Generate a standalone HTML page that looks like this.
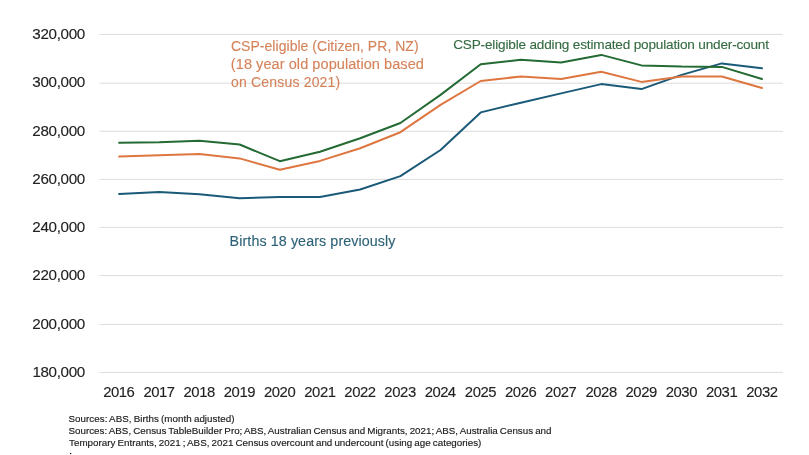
<!DOCTYPE html>
<html><head><meta charset="utf-8"><title>Chart</title>
<style>
html,body{margin:0;padding:0;background:#fff;}
body{width:809px;height:455px;overflow:hidden;}
svg{display:block;will-change:transform;}
text{font-family:"Liberation Sans",sans-serif;}
</style></head><body>
<svg width="809" height="455" viewBox="0 0 809 455">
<rect width="809" height="455" fill="#fff"/>
<line x1="99.5" y1="34.40" x2="783" y2="34.40" stroke="#DCDCDC" stroke-width="1"/>
<line x1="99.5" y1="83.20" x2="783" y2="83.20" stroke="#DCDCDC" stroke-width="1"/>
<line x1="99.5" y1="131.30" x2="783" y2="131.30" stroke="#DCDCDC" stroke-width="1"/>
<line x1="99.5" y1="179.40" x2="783" y2="179.40" stroke="#DCDCDC" stroke-width="1"/>
<line x1="99.5" y1="227.40" x2="783" y2="227.40" stroke="#DCDCDC" stroke-width="1"/>
<line x1="99.5" y1="275.60" x2="783" y2="275.60" stroke="#DCDCDC" stroke-width="1"/>
<line x1="99.5" y1="324.40" x2="783" y2="324.40" stroke="#DCDCDC" stroke-width="1"/>
<line x1="99.5" y1="372.40" x2="783" y2="372.40" stroke="#DCDCDC" stroke-width="1"/>
<polyline points="119.10,193.90 159.28,191.90 199.46,194.30 239.64,198.20 279.82,197.00 320.00,197.00 360.18,189.50 400.36,176.10 440.54,150.00 480.72,112.40 520.90,102.70 561.08,93.40 601.26,84.10 641.44,89.10 681.62,74.90 721.80,63.40 761.98,68.30" fill="none" stroke="#1A5A78" stroke-width="2" stroke-linejoin="round" stroke-linecap="round"/>
<polyline points="119.10,156.50 159.28,155.30 199.46,154.10 239.64,158.40 279.82,169.70 320.00,160.90 360.18,148.20 400.36,132.20 440.54,104.80 480.72,81.00 520.90,76.40 561.08,79.00 601.26,71.80 641.44,81.90 681.62,76.50 721.80,76.50 761.98,88.00" fill="none" stroke="#DE7640" stroke-width="2" stroke-linejoin="round" stroke-linecap="round"/>
<polyline points="119.10,142.70 159.28,142.30 199.46,140.70 239.64,144.50 279.82,161.20 320.00,151.70 360.18,138.20 400.36,123.00 440.54,94.90 480.72,64.30 520.90,59.80 561.08,62.60 601.26,54.90 641.44,65.40 681.62,66.60 721.80,66.90 761.98,79.00" fill="none" stroke="#236A33" stroke-width="2" stroke-linejoin="round" stroke-linecap="round"/>
<text id="yl0" transform="matrix(1.05,0,0,1,32.34,39.00)" font-size="14.5" fill="#222222" stroke="#222222" stroke-width="0.12" textLength="50.35" lengthAdjust="spacing">320,000</text>
<text id="yl1" transform="matrix(1.05,0,0,1,32.34,87.29)" font-size="14.5" fill="#222222" stroke="#222222" stroke-width="0.12" textLength="50.35" lengthAdjust="spacing">300,000</text>
<text id="yl2" transform="matrix(1.05,0,0,1,32.34,135.58)" font-size="14.5" fill="#222222" stroke="#222222" stroke-width="0.12" textLength="50.36" lengthAdjust="spacing">280,000</text>
<text id="yl3" transform="matrix(1.05,0,0,1,32.34,183.87)" font-size="14.5" fill="#222222" stroke="#222222" stroke-width="0.12" textLength="50.36" lengthAdjust="spacing">260,000</text>
<text id="yl4" transform="matrix(1.05,0,0,1,32.34,232.16)" font-size="14.5" fill="#222222" stroke="#222222" stroke-width="0.12" textLength="50.36" lengthAdjust="spacing">240,000</text>
<text id="yl5" transform="matrix(1.05,0,0,1,32.34,280.45)" font-size="14.5" fill="#222222" stroke="#222222" stroke-width="0.12" textLength="50.36" lengthAdjust="spacing">220,000</text>
<text id="yl6" transform="matrix(1.05,0,0,1,32.34,328.74)" font-size="14.5" fill="#222222" stroke="#222222" stroke-width="0.12" textLength="50.36" lengthAdjust="spacing">200,000</text>
<text id="yl7" transform="matrix(1.05,0,0,1,32.43,377.03)" font-size="14.5" fill="#222222" stroke="#222222" stroke-width="0.12" textLength="50.33" lengthAdjust="spacing">180,000</text>
<text id="xl0" transform="matrix(1.04,0,0,1,103.16,396.80)" font-size="14.3" fill="#222222" stroke="#222222" stroke-width="0.12" textLength="30.49" lengthAdjust="spacing">2016</text>
<text id="xl1" transform="matrix(1.04,0,0,1,143.52,396.80)" font-size="14.3" fill="#222222" stroke="#222222" stroke-width="0.12" textLength="30.32" lengthAdjust="spacing">2017</text>
<text id="xl2" transform="matrix(1.04,0,0,1,183.52,396.80)" font-size="14.3" fill="#222222" stroke="#222222" stroke-width="0.12" textLength="30.62" lengthAdjust="spacing">2018</text>
<text id="xl3" transform="matrix(1.04,0,0,1,223.67,396.80)" font-size="14.3" fill="#222222" stroke="#222222" stroke-width="0.12" textLength="30.65" lengthAdjust="spacing">2019</text>
<text id="xl4" transform="matrix(1.04,0,0,1,264.03,396.80)" font-size="14.3" fill="#222222" stroke="#222222" stroke-width="0.12" textLength="30.46" lengthAdjust="spacing">2020</text>
<text id="xl5" transform="matrix(1.04,0,0,1,304.18,396.80)" font-size="14.3" fill="#222222" stroke="#222222" stroke-width="0.12" textLength="30.67" lengthAdjust="spacing">2021</text>
<text id="xl6" transform="matrix(1.04,0,0,1,344.32,396.80)" font-size="14.3" fill="#222222" stroke="#222222" stroke-width="0.12" textLength="30.53" lengthAdjust="spacing">2022</text>
<text id="xl7" transform="matrix(1.04,0,0,1,384.32,396.80)" font-size="14.3" fill="#222222" stroke="#222222" stroke-width="0.12" textLength="30.64" lengthAdjust="spacing">2023</text>
<text id="xl8" transform="matrix(1.04,0,0,1,424.68,396.80)" font-size="14.3" fill="#222222" stroke="#222222" stroke-width="0.12" textLength="30.26" lengthAdjust="spacing">2024</text>
<text id="xl9" transform="matrix(1.04,0,0,1,464.83,396.80)" font-size="14.3" fill="#222222" stroke="#222222" stroke-width="0.12" textLength="30.59" lengthAdjust="spacing">2025</text>
<text id="xl10" transform="matrix(1.04,0,0,1,504.98,396.80)" font-size="14.3" fill="#222222" stroke="#222222" stroke-width="0.12" textLength="30.67" lengthAdjust="spacing">2026</text>
<text id="xl11" transform="matrix(1.04,0,0,1,545.12,396.80)" font-size="14.3" fill="#222222" stroke="#222222" stroke-width="0.12" textLength="30.53" lengthAdjust="spacing">2027</text>
<text id="xl12" transform="matrix(1.04,0,0,1,585.48,396.80)" font-size="14.3" fill="#222222" stroke="#222222" stroke-width="0.12" textLength="30.47" lengthAdjust="spacing">2028</text>
<text id="xl13" transform="matrix(1.04,0,0,1,625.48,396.80)" font-size="14.3" fill="#222222" stroke="#222222" stroke-width="0.12" textLength="30.66" lengthAdjust="spacing">2029</text>
<text id="xl14" transform="matrix(1.04,0,0,1,665.63,396.80)" font-size="14.3" fill="#222222" stroke="#222222" stroke-width="0.12" textLength="30.56" lengthAdjust="spacing">2030</text>
<text id="xl15" transform="matrix(1.04,0,0,1,705.99,396.80)" font-size="14.3" fill="#222222" stroke="#222222" stroke-width="0.12" textLength="30.46" lengthAdjust="spacing">2031</text>
<text id="xl16" transform="matrix(1.04,0,0,1,746.14,396.80)" font-size="14.3" fill="#222222" stroke="#222222" stroke-width="0.12" textLength="30.66" lengthAdjust="spacing">2032</text>
<text id="o1" transform="matrix(1.0,0,0,1,230.98,51.20)" font-size="14" fill="#D5835A" stroke="#D5835A" stroke-width="0.12" textLength="187.64" lengthAdjust="spacing">CSP-eligible (Citizen, PR, NZ)</text>
<text id="o2" transform="matrix(1.04,0,0,1,230.83,69.30)" font-size="14" fill="#D5835A" stroke="#D5835A" stroke-width="0.12" textLength="185.68" lengthAdjust="spacing">(18 year old population based</text>
<text id="o3" transform="matrix(1.0,0,0,1,231.07,87.40)" font-size="14" fill="#D5835A" stroke="#D5835A" stroke-width="0.12" textLength="109.17" lengthAdjust="spacing">on Census 2021)</text>
<text id="g1" transform="matrix(1.0,0,0,1,453.20,49.00)" font-size="13.6" fill="#356B42" stroke="#356B42" stroke-width="0.12" textLength="315.82" lengthAdjust="spacing">CSP-eligible adding estimated population under-count</text>
<text id="b1" transform="matrix(1.02,0,0,1,229.59,246.00)" font-size="14" fill="#2C6176" stroke="#2C6176" stroke-width="0.12" textLength="162.65" lengthAdjust="spacing">Births 18 years previously</text>
<text id="s0" word-spacing="-0.6" transform="matrix(1.0,0,0,1,68.54,421.90)" font-size="9.8" fill="#1a1a1a" stroke="#1a1a1a" stroke-width="0.15" textLength="165.94" lengthAdjust="spacing">Sources: ABS, Births (month adjusted)</text>
<text id="s1" word-spacing="-0.6" transform="matrix(1.0,0,0,1,68.56,434.05)" font-size="9.8" fill="#1a1a1a" stroke="#1a1a1a" stroke-width="0.15" textLength="482.97" lengthAdjust="spacing">Sources: ABS, Census TableBuilder Pro; ABS, Australian Census and Migrants, 2021; ABS, Australia Census and</text>
<text id="s2" word-spacing="-0.6" transform="matrix(1.0,0,0,1,69.09,446.20)" font-size="9.8" fill="#1a1a1a" stroke="#1a1a1a" stroke-width="0.15" textLength="412.23" lengthAdjust="spacing">Temporary Entrants, 2021 ; ABS, 2021 Census overcount and undercount (using age categories)</text>
<circle cx="70.6" cy="453.6" r="0.75" fill="#1a1a1a"/>
</svg>
</body></html>
